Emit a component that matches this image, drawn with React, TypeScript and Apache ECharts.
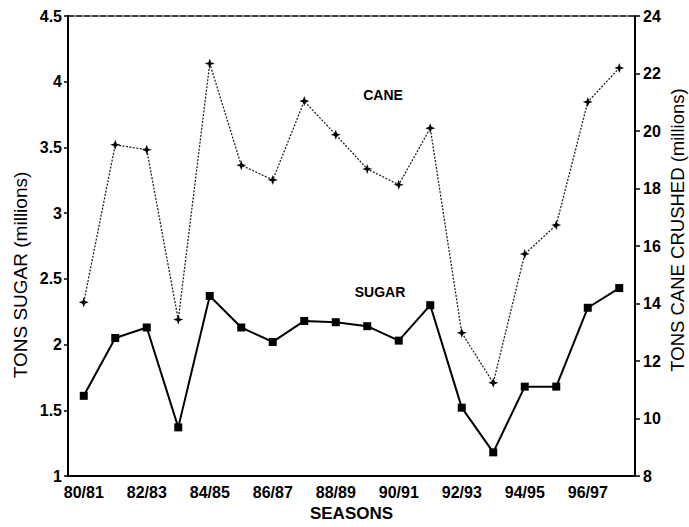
import React, { useEffect, useRef } from "react";
import * as echarts from "echarts";

const seasons = [
  "80/81", "81/82", "82/83", "83/84", "84/85", "85/86", "86/87", "87/88", "88/89",
  "89/90", "90/91", "91/92", "92/93", "93/94", "94/95", "95/96", "96/97", "97/98",
];
// TONS SUGAR (millions) – left axis
const sugar = [1.61, 2.05, 2.13, 1.37, 2.37, 2.13, 2.02, 2.18, 2.17, 2.14, 2.03, 2.3, 1.52, 1.18, 1.68, 1.68, 2.28, 2.43];
// TONS CANE CRUSHED (millions) – right axis
const cane = [14.04, 19.52, 19.35, 13.44, 22.35, 18.81, 18.3, 21.04, 19.87, 18.68, 18.13, 20.1, 12.98, 11.24, 15.72, 16.73, 21.01, 22.19];

const FONT = "'Liberation Sans', Arial, Helvetica, sans-serif";
const STAR = "path://M0,-5 L1.3,-1.3 L5,0 L1.3,1.3 L0,5 L-1.3,1.3 L-5,0 L-1.3,-1.3 Z";

export default function App() {
  const ref = useRef<HTMLDivElement>(null);
  useEffect(() => {
    if (!ref.current) return;
    const chart = echarts.init(ref.current, null, { renderer: "svg" });
    const tickLabel = { color: "#000", fontFamily: FONT, fontWeight: "bold" as const, fontSize: 16 };
    chart.setOption({
      animation: false,
      backgroundColor: "#fff",
      grid: { left: 68, right: 54, top: 16, bottom: 43, containLabel: false },
      xAxis: [
        {
          type: "category",
          data: seasons,
          boundaryGap: true,
          name: "SEASONS",
          nameLocation: "middle",
          nameGap: 29,
          nameTextStyle: { color: "#000", fontFamily: FONT, fontWeight: "bold", fontSize: 17 },
          axisLine: { lineStyle: { color: "#000", width: 2 } },
          axisTick: { alignWithLabel: true, interval: 0, length: 5, lineStyle: { color: "#000", width: 1.5 } },
          axisLabel: { ...tickLabel, interval: 1, margin: 8 },
          splitLine: { show: false },
        },
        {
          type: "category",
          data: seasons,
          position: "top",
          axisLine: { lineStyle: { color: "#000", width: 1.5, type: [6, 2] } },
          axisTick: { show: false },
          axisLabel: { show: false },
          splitLine: { show: false },
        },
      ],
      yAxis: [
        {
          type: "value",
          min: 1,
          max: 4.5,
          interval: 0.5,
          position: "left",
          axisLine: { show: true, lineStyle: { color: "#000", width: 2 } },
          axisTick: { show: true, length: 4, lineStyle: { color: "#000", width: 1.5 } },
          axisLabel: { ...tickLabel, margin: 6, formatter: (v: number) => String(v) },
          splitLine: { show: false },
        },
        {
          type: "value",
          min: 8,
          max: 24,
          interval: 2,
          position: "right",
          axisLine: { show: true, lineStyle: { color: "#000", width: 2 } },
          axisTick: { show: true, length: 5, lineStyle: { color: "#000", width: 1.5 } },
          axisLabel: { ...tickLabel, margin: 8 },
          splitLine: { show: false },
        },
      ],
      series: [
        {
          name: "CANE",
          type: "line",
          yAxisIndex: 1,
          data: cane,
          symbol: STAR,
          symbolSize: 10,
          lineStyle: { color: "#222", width: 1.3, type: [2, 1.5] },
          itemStyle: { color: "#000" },
        },
        {
          name: "SUGAR",
          type: "line",
          yAxisIndex: 0,
          data: sugar,
          symbol: "rect",
          symbolSize: 8,
          lineStyle: { color: "#000", width: 2 },
          itemStyle: { color: "#000" },
        },
      ],
      graphic: [
        {
          type: "text",
          x: 20,
          y: 275,
          rotation: Math.PI / 2,
          style: { text: "TONS SUGAR (millions)", fill: "#000", font: `19px ${FONT}`, align: "center", verticalAlign: "middle" },
        },
        {
          type: "text",
          x: 677,
          y: 230,
          rotation: Math.PI / 2,
          style: { text: "TONS CANE CRUSHED (millions)", fill: "#000", font: `18.5px ${FONT}`, align: "center", verticalAlign: "middle" },
        },
        {
          type: "text",
          x: 383,
          y: 95,
          style: { text: "CANE", fill: "#000", font: `bold 14px ${FONT}`, align: "center", verticalAlign: "middle" },
        },
        {
          type: "text",
          x: 380,
          y: 292,
          style: { text: "SUGAR", fill: "#000", font: `bold 14px ${FONT}`, align: "center", verticalAlign: "middle" },
        },
      ],
    });
    return () => chart.dispose();
  }, []);
  return (
    <div
      ref={ref}
      style={{ position: "fixed", left: 0, top: 0, width: 689, height: 527, background: "#fff" }}
    />
  );
}
